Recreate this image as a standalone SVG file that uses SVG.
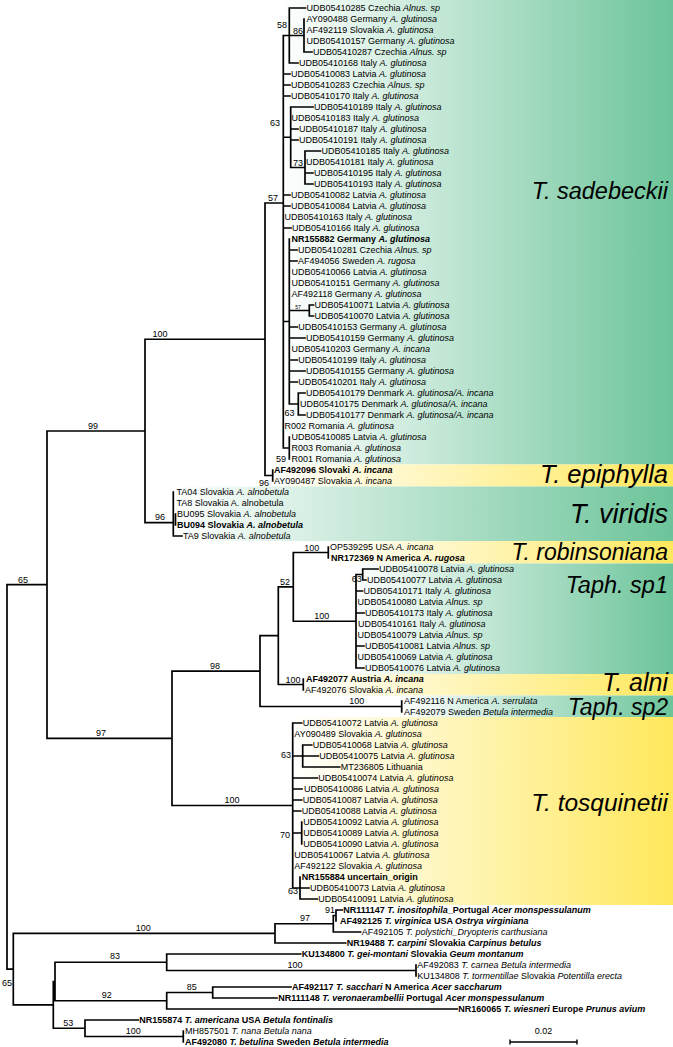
<svg xmlns="http://www.w3.org/2000/svg" width="673" height="1047" viewBox="0 0 673 1047">
<style>
text{font-family:"Liberation Sans",Arial,sans-serif;font-size:9px;fill:#000}
.b{font-weight:bold}
.i{font-style:italic}
.bs{text-anchor:middle}
.be{text-anchor:end}
.cl{font-size:24px;font-style:italic;text-anchor:end}
.br{fill:none;stroke:#000;stroke-width:1.7;stroke-linecap:square}
.tk{fill:none;stroke:#000;stroke-width:1.4}
</style>
<defs>
<linearGradient id="gG" x1="0" y1="0" x2="1" y2="0"><stop offset="0" stop-color="#ffffff"/><stop offset="1" stop-color="#6cc49a"/></linearGradient>
<linearGradient id="gY" x1="0" y1="0" x2="1" y2="0"><stop offset="0" stop-color="#ffffff"/><stop offset="1" stop-color="#ffe85c"/></linearGradient>
</defs>
<rect width="673" height="1047" fill="#fff"/>
<g id="clade-bands">
<rect x="280" y="0" width="393" height="464.5" fill="url(#gG)"/>
<rect x="270" y="464.5" width="403" height="22" fill="url(#gY)"/>
<rect x="172" y="486.5" width="501" height="54.5" fill="url(#gG)"/>
<rect x="328" y="541" width="345" height="22.5" fill="url(#gY)"/>
<rect x="352" y="563.5" width="321" height="110.5" fill="url(#gG)"/>
<rect x="300" y="674" width="373" height="21.5" fill="url(#gY)"/>
<rect x="400" y="695.5" width="273" height="21.5" fill="url(#gG)"/>
<rect x="290" y="717" width="383" height="188" fill="url(#gY)"/>
</g>
<g id="clade-labels">
<g id="c-sadebeckii"><text class="cl" x="668" y="199" style="font-size:23.5px">T. sadebeckii</text></g>
<g id="c-epiphylla"><text class="cl" x="668" y="483" style="font-size:25.5px">T. epiphylla</text></g>
<g id="c-viridis"><text class="cl" x="668" y="523" style="font-size:27px">T. viridis</text></g>
<g id="c-robinsoniana"><text class="cl" x="668" y="560" style="font-size:23px">T. robinsoniana</text></g>
<g id="c-sp1"><text class="cl" x="668" y="593" style="font-size:23.5px">Taph. sp1</text></g>
<g id="c-alni"><text class="cl" x="668" y="690.5" style="font-size:25px">T. alni</text></g>
<g id="c-sp2"><text class="cl" x="668" y="714.5" style="font-size:23px">Taph. sp2</text></g>
<g id="c-tosquinetii"><text class="cl" x="668" y="811" style="font-size:24.5px">T. tosquinetii</text></g>
</g>
<g id="connectors">
<path class="br" d="M7 584.7V969.1 M7 584.7H47 M47 431V738.3 M47 431H145 M145 339.25V522.7 M145 339.25H265 M265 203V475.5 M265 203H283.3 M283.3 35.5V448
M283.3 35.5H289.3 M289.3 8V63 M289.3 35.5H304 M304 19V52 M289.3 8H305.5 M304 52H312 M289.3 63H298
M283.3 74H290 M283.3 85H290 M283.3 96H290
M283.3 137.25H290.7 M290.7 107V167.5 M290.7 107H313 M290.7 129H298 M290.7 140H298
M290.7 167.5H305 M305 151V184 M305 151H320.5 M305 173H313 M305 184H313
M283.3 195H290 M283.3 206H290 M283.3 228H291
M283.3 321.5H289.3 M289.3 239V404 M289.3 250H297 M289.3 261H297
M289.3 310.5H309.3 M309.3 305V316 M309.3 305H313.5 M309.3 316H313.5
M289.3 327H297.3 M289.3 338H305 M289.3 360H297.3 M289.3 371H305 M289.3 382H297.3
M289.3 404H298.3 M298.3 393V415 M298.3 393H305 M298.3 415H305
M283.3 448H289.3 M289.3 437V459
M265 475.5H272.7 M272.7 470V481
M145 522.7H173.3 M173.3 492V536 M175.5 514V525 M173.3 536H182
M47 738.3H172 M172 671.1V805.5 M172 671.1H260 M260 635.7V706.5 M260 635.7H278.3 M278.3 586.9V684.5
M278.3 586.9H293.3 M293.3 552.5V621.25 M293.3 552.5H328.3 M328.3 547V558
M293.3 621.25H356 M356 574.5V668 M356 574.5H362.7 M362.7 569V580 M362.7 569H378 M362.7 580H366
M356 591H362.5 M356 613H364 M356 646H364 M356 668H364
M278.3 684.5H303.3 M303.3 679V690
M260 706.5H401.7 M401.7 701V712
M172 805.5H292.7 M292.7 723V888 M292.7 723H301.7
M292.7 756H302.7 M302.7 745V767 M302.7 745H311.7 M302.7 756H318.3 M302.7 767H339.7
M292.7 778H317.3 M292.7 789H302 M292.7 800H301.7 M292.7 811H300.7
M292.7 833H301.7 M301.7 822V844
M292.7 888H300 M300 877V899 M300 888H309 M300 899H317.3
M7 969.1H13.3 M13.3 933.4V1004.9 M13.3 933.4H275 M275 923.75V943 M275 923.75H333.3 M333.3 915.5V932
M333.3 915.5H336 M336 910V921 M336 910H342.3 M333.3 932H360.7 M275 943H345.7
M13.3 1004.9H53.3 M53.3 981.5V1028.25 M53.3 981.5H55 M55 962.25V1000.75
M55 962.25H166.7 M166.7 954V970.5 M166.7 954H300.7 M166.7 970.5H416 M416 965V976
M55 1000.75H166.7 M166.7 992.5V1009 M166.7 992.5H212.7 M212.7 987V998 M212.7 987H291 M212.7 998H277 M166.7 1009H457.3
M53.3 1028.25H85 M85 1020V1036.5 M85 1020H138.3 M85 1036.5H183.3 M183.3 1031V1042"/>
</g>
<g id="support">
<text class="bs" x="282" y="27.5">58</text>
<text class="bs" x="298" y="33.5">86</text>
<text class="bs" x="275" y="126">63</text>
<text class="bs" x="298" y="165.5">73</text>
<text class="bs" x="273" y="201">57</text>
<text class="bs" x="298" y="308.5" style="font-size:5px">57</text>
<text class="bs" x="289.5" y="416">63</text>
<text class="bs" x="281" y="462">59</text>
<text class="bs" x="264" y="485.5">96</text>
<text class="bs" x="160" y="337">100</text>
<text class="bs" x="93" y="429">99</text>
<text class="bs" x="160" y="520">96</text>
<text class="bs" x="23" y="582.5">65</text>
<text class="bs" x="311.7" y="550.5">100</text>
<text class="bs" x="285" y="584.5">52</text>
<text class="bs" x="356.7" y="582">63</text>
<text class="bs" x="321.7" y="618.5">100</text>
<text class="bs" x="215" y="669">98</text>
<text class="bs" x="293" y="683">100</text>
<text class="bs" x="356.7" y="704">100</text>
<text class="bs" x="101" y="736">97</text>
<text class="be" x="291" y="758">63</text>
<text class="bs" x="232" y="803">100</text>
<text class="be" x="290" y="838">70</text>
<text class="bs" x="293" y="894">63</text>
<text class="be" x="335" y="912.5">91</text>
<text class="bs" x="305" y="921">97</text>
<text class="bs" x="143.3" y="930.5">100</text>
<text class="bs" x="115" y="959">83</text>
<text class="bs" x="295" y="968">100</text>
<text class="bs" x="191.7" y="990">85</text>
<text class="bs" x="106.7" y="998">92</text>
<text class="bs" x="7" y="986">65</text>
<text class="bs" x="68.3" y="1026">53</text>
<text class="bs" x="133.3" y="1034">100</text>
</g>
<g id="tips">
<g id="t1"><text x="306.5" y="11.2">UDB05410285 Czechia <tspan class="i">Alnus. sp</tspan></text></g>
<g id="t2"><text x="306.5" y="22.2">AY090488 Germany <tspan class="i">A. glutinosa</tspan></text></g>
<g id="t3"><text x="306.5" y="33.2">AF492119 Slovakia <tspan class="i">A. glutinosa</tspan></text></g>
<g id="t4"><text x="306.5" y="44.2">UDB05410157 Germany <tspan class="i">A. glutinosa</tspan></text></g>
<g id="t5"><text x="313" y="55.2">UDB05410287 Czechia <tspan class="i">Alnus. sp</tspan></text></g>
<g id="t6"><text x="299" y="66.2">UDB05410168 Italy <tspan class="i">A. glutinosa</tspan></text></g>
<g id="t7"><text x="291" y="77.2">UDB05410083 Latvia <tspan class="i">A. glutinosa</tspan></text></g>
<g id="t8"><text x="291" y="88.2">UDB05410283 Czechia <tspan class="i">Alnus. sp</tspan></text></g>
<g id="t9"><text x="291" y="99.2">UDB05410170 Italy <tspan class="i">A. glutinosa</tspan></text></g>
<g id="t10"><text x="314" y="110.2">UDB05410189 Italy <tspan class="i">A. glutinosa</tspan></text></g>
<g id="t11"><text x="291.5" y="121.2">UDB05410183 Italy <tspan class="i">A. glutinosa</tspan></text></g>
<g id="t12"><text x="299" y="132.2">UDB05410187 Italy <tspan class="i">A. glutinosa</tspan></text></g>
<g id="t13"><text x="299" y="143.2">UDB05410191 Italy <tspan class="i">A. glutinosa</tspan></text></g>
<g id="t14"><text x="321.5" y="154.2">UDB05410185 Italy <tspan class="i">A. glutinosa</tspan></text></g>
<g id="t15"><text x="306" y="165.2">UDB05410181 Italy <tspan class="i">A. glutinosa</tspan></text></g>
<g id="t16"><text x="314" y="176.2">UDB05410195 Italy <tspan class="i">A. glutinosa</tspan></text></g>
<g id="t17"><text x="314" y="187.2">UDB05410193 Italy <tspan class="i">A. glutinosa</tspan></text></g>
<g id="t18"><text x="291" y="198.2">UDB05410082 Latvia <tspan class="i">A. glutinosa</tspan></text></g>
<g id="t19"><text x="291" y="209.2">UDB05410084 Latvia <tspan class="i">A. glutinosa</tspan></text></g>
<g id="t20"><text x="284.5" y="220.2">UDB05410163 Italy <tspan class="i">A. glutinosa</tspan></text></g>
<g id="t21"><text x="292" y="231.2">UDB05410166 Italy <tspan class="i">A. glutinosa</tspan></text></g>
<g id="t22"><text class="b" x="291.5" y="242.2">NR155882 Germany <tspan class="i">A. glutinosa</tspan></text></g>
<g id="t23"><text x="298" y="253.2">UDB05410281 Czechia <tspan class="i">Alnus. sp</tspan></text></g>
<g id="t24"><text x="298" y="264.2">AF494056 Sweden <tspan class="i">A. rugosa</tspan></text></g>
<g id="t25"><text x="291.5" y="275.2">UDB05410066 Latvia <tspan class="i">A. glutinosa</tspan></text></g>
<g id="t26"><text x="291.5" y="286.2">UDB05410151 Germany <tspan class="i">A. glutinosa</tspan></text></g>
<g id="t27"><text x="291.5" y="297.2">AF492118 Germany <tspan class="i">A. glutinosa</tspan></text></g>
<g id="t28"><text x="314.5" y="308.2">UDB05410071 Latvia <tspan class="i">A. glutinosa</tspan></text></g>
<g id="t29"><text x="314.5" y="319.2">UDB05410070 Latvia <tspan class="i">A. glutinosa</tspan></text></g>
<g id="t30"><text x="298.3" y="330.2">UDB05410153 Germany <tspan class="i">A. glutinosa</tspan></text></g>
<g id="t31"><text x="306" y="341.2">UDB05410159 Germany <tspan class="i">A. glutinosa</tspan></text></g>
<g id="t32"><text x="291.5" y="352.2">UDB05410203 Germany <tspan class="i">A. incana</tspan></text></g>
<g id="t33"><text x="298.3" y="363.2">UDB05410199 Italy <tspan class="i">A. glutinosa</tspan></text></g>
<g id="t34"><text x="306" y="374.2">UDB05410155 Germany <tspan class="i">A. glutinosa</tspan></text></g>
<g id="t35"><text x="298.3" y="385.2">UDB05410201 Italy <tspan class="i">A. glutinosa</tspan></text></g>
<g id="t36"><text x="306" y="396.2">UDB05410179 Denmark <tspan class="i">A. glutinosa/A. incana</tspan></text></g>
<g id="t37"><text x="300" y="407.2">UDB05410175 Denmark <tspan class="i">A. glutinosa/A. incana</tspan></text></g>
<g id="t38"><text x="306" y="418.2">UDB05410177 Denmark <tspan class="i">A. glutinosa/A. incana</tspan></text></g>
<g id="t39"><text x="284.5" y="429.2">R002 Romania <tspan class="i">A. glutinosa</tspan></text></g>
<g id="t40"><text x="291.5" y="440.2">UDB05410085 Latvia <tspan class="i">A. glutinosa</tspan></text></g>
<g id="t41"><text x="291.5" y="451.2">R003 Romania <tspan class="i">A. glutinosa</tspan></text></g>
<g id="t42"><text x="291.5" y="462.2">R001 Romania <tspan class="i">A. glutinosa</tspan></text></g>
<g id="t43"><text class="b" x="274" y="473.2">AF492096 Slovaki <tspan class="i">A. incana</tspan></text></g>
<g id="t44"><text x="274" y="484.2">AY090487 Slovakia <tspan class="i">A. incana</tspan></text></g>
<g id="t45"><text x="176.5" y="495.2">TA04 Slovakia <tspan class="i">A. alnobetula</tspan></text></g>
<g id="t46"><text x="176.5" y="506.2">TA8 Slovakia A. alnobetula</text></g>
<g id="t47"><text x="177" y="517.2">BU095 Slovakia <tspan class="i">A. alnobetula</tspan></text></g>
<g id="t48"><text class="b" x="177" y="528.2">BU094 Slovakia <tspan class="i">A. alnobetula</tspan></text></g>
<g id="t49"><text x="183" y="539.2">TA9 Slovakia <tspan class="i">A. alnobetula</tspan></text></g>
<g id="t50"><text x="330" y="550.2">OP539295 USA  <tspan class="i">A. incana</tspan></text></g>
<g id="t51"><text class="b" x="331" y="561.2">NR172369 N America <tspan class="i">A. rugosa</tspan></text></g>
<g id="t52"><text x="379" y="572.2">UDB05410078 Latvia <tspan class="i">A. glutinosa</tspan></text></g>
<g id="t53"><text x="367" y="583.2">UDB05410077 Latvia <tspan class="i">A. glutinosa</tspan></text></g>
<g id="t54"><text x="363.5" y="594.2">UDB05410171 Italy <tspan class="i">A. glutinosa</tspan></text></g>
<g id="t55"><text x="357.5" y="605.2">UDB05410080 Latvia <tspan class="i">Alnus. sp</tspan></text></g>
<g id="t56"><text x="365" y="616.2">UDB05410173 Italy <tspan class="i">A. glutinosa</tspan></text></g>
<g id="t57"><text x="358" y="627.2">UDB05410161 Italy <tspan class="i">A. glutinosa</tspan></text></g>
<g id="t58"><text x="357.5" y="638.2">UDB05410079 Latvia <tspan class="i">Alnus. sp</tspan></text></g>
<g id="t59"><text x="365" y="649.2">UDB05410081 Latvia <tspan class="i">Alnus. sp</tspan></text></g>
<g id="t60"><text x="357.5" y="660.2">UDB05410069 Latvia <tspan class="i">A. glutinosa</tspan></text></g>
<g id="t61"><text x="365" y="671.2">UDB05410076 Latvia <tspan class="i">A. glutinosa</tspan></text></g>
<g id="t62"><text class="b" x="306" y="682.2">AF492077 Austria <tspan class="i">A. incana</tspan></text></g>
<g id="t63"><text x="305" y="693.2">AF492076 Slovakia <tspan class="i">A. incana</tspan></text></g>
<g id="t64"><text x="404" y="704.2">AF492116 N America <tspan class="i">A. serrulata</tspan></text></g>
<g id="t65"><text x="404" y="715.2">AF492079 Sweden <tspan class="i">Betula intermedia</tspan></text></g>
<g id="t66"><text x="302.7" y="726.2">UDB05410072 Latvia <tspan class="i">A. glutinosa</tspan></text></g>
<g id="t67"><text x="294.3" y="737.2">AY090489 Slovakia <tspan class="i">A. glutinosa</tspan></text></g>
<g id="t68"><text x="312.7" y="748.2">UDB05410068 Latvia <tspan class="i">A. glutinosa</tspan></text></g>
<g id="t69"><text x="319.3" y="759.2">UDB05410075 Latvia <tspan class="i">A. glutinosa</tspan></text></g>
<g id="t70"><text x="340.7" y="770.2">MT236805 Lithuania</text></g>
<g id="t71"><text x="318.3" y="781.2">UDB05410074 Latvia <tspan class="i">A. glutinosa</tspan></text></g>
<g id="t72"><text x="304" y="792.2">UDB05410086 Latvia <tspan class="i">A. glutinosa</tspan></text></g>
<g id="t73"><text x="302.7" y="803.2">UDB05410087 Latvia <tspan class="i">A. glutinosa</tspan></text></g>
<g id="t74"><text x="301.7" y="814.2">UDB05410088 Latvia <tspan class="i">A. glutinosa</tspan></text></g>
<g id="t75"><text x="303.3" y="825.2">UDB05410092 Latvia <tspan class="i">A. glutinosa</tspan></text></g>
<g id="t76"><text x="303.3" y="836.2">UDB05410089 Latvia <tspan class="i">A. glutinosa</tspan></text></g>
<g id="t77"><text x="303.3" y="847.2">UDB05410090 Latvia <tspan class="i">A. glutinosa</tspan></text></g>
<g id="t78"><text x="294.3" y="858.2">UDB05410067 Latvia <tspan class="i">A. glutinosa</tspan></text></g>
<g id="t79"><text x="294.3" y="869.2">AF492122 Slovakia <tspan class="i">A. glutinosa</tspan></text></g>
<g id="t80"><text class="b" x="301.7" y="880.2">NR155884 uncertain_origin</text></g>
<g id="t81"><text x="310" y="891.2">UDB05410073 Latvia <tspan class="i">A. glutinosa</tspan></text></g>
<g id="t82"><text x="318.3" y="902.2">UDB05410091 Latvia <tspan class="i">A. glutinosa</tspan></text></g>
<g id="t83"><text class="b" x="343.3" y="913.2">NR111147 <tspan class="i">T. inositophila</tspan>_Portugal <tspan class="i">Acer monspessulanum</tspan></text></g>
<g id="t84"><text class="b" x="340" y="924.2">AF492125 <tspan class="i">T. virginica</tspan> USA <tspan class="i">Ostrya virginiana</tspan></text></g>
<g id="t85"><text x="361.7" y="935.2">AF492105 <tspan class="i">T. polystichi_Dryopteris carthusiana</tspan></text></g>
<g id="t86"><text class="b" x="346.7" y="946.2">NR19488 <tspan class="i">T. carpini</tspan> Slovakia <tspan class="i">Carpinus betulus</tspan></text></g>
<g id="t87"><text class="b" x="301.7" y="957.2">KU134800 <tspan class="i">T. gei-montani</tspan> Slovakia <tspan class="i">Geum montanum</tspan></text></g>
<g id="t88"><text x="417.3" y="968.2">AF492083 <tspan class="i">T. carnea Betula intermedia</tspan></text></g>
<g id="t89"><text x="417.3" y="979.2">KU134808 <tspan class="i">T. tormentillae</tspan> Slovakia <tspan class="i">Potentilla erecta</tspan></text></g>
<g id="t90"><text class="b" x="292" y="990.2">AF492117 <tspan class="i">T. sacchari</tspan> N America <tspan class="i">Acer saccharum</tspan></text></g>
<g id="t91"><text class="b" x="278.3" y="1001.2">NR111148 <tspan class="i">T. veronaerambellii</tspan> Portugal <tspan class="i">Acer monspessulanum</tspan></text></g>
<g id="t92"><text class="b" x="458.3" y="1012.2">NR160065 <tspan class="i">T. wiesneri</tspan> Europe <tspan class="i">Prunus avium</tspan></text></g>
<g id="t93"><text class="b" x="139.3" y="1023.2">NR155874 <tspan class="i">T. americana</tspan> USA <tspan class="i">Betula fontinalis</tspan></text></g>
<g id="t94"><text x="185" y="1034.2">MH857501 <tspan class="i">T. nana Betula nana</tspan></text></g>
<g id="t95"><text class="b" x="185" y="1045.2">AF492080 <tspan class="i">T. betulina</tspan> Sweden <tspan class="i">Betula intermedia</tspan></text></g>
</g>
<g id="scale-bar">
<path class="tk" d="M510 1042H577 M510 1039.5V1044.5 M577 1039.5V1044.5"/>
<text class="bs" x="543.5" y="1034">0.02</text>
</g>
</svg>
